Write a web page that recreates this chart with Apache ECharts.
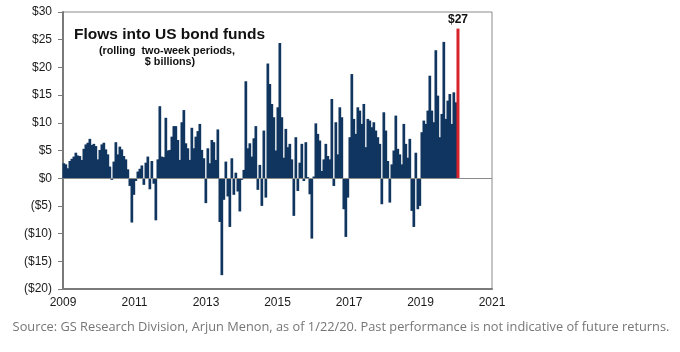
<!DOCTYPE html>
<html>
<head>
<meta charset="utf-8">
<script src="https://cdn.jsdelivr.net/npm/echarts@6/dist/echarts.min.js"></script>
<style>
  html, body { margin: 0; padding: 0; background: #fff; }
  #chart { width: 680px; height: 352px; }
</style>
</head>
<body>
<div id="chart"></div>
<script>
// rolling two-week flows, $ billions (Jan 2009 -> Jan 2020)
const flows = [
    2.7, 2.5, 1.8, 3.1, 3.5, 3.9, 4.6, 4.1, 4.0, 3.3,
    5.3, 6.1, 6.4, 7.1, 6.0, 6.2, 5.8, 3.4, 5.1, 6.1,
    6.4, 5.2, 4.3, 2.1, -0.3, 3.0, 6.5, 4.3, 5.7, 5.2,
    4.0, 3.4, 1.6, -1.4, -8.0, -3.0, -0.5, 1.2, 1.7, 2.3,
    -1.2, 2.8, 3.9, -2.0, 3.1, -1.0, -7.6, 3.4,
    13.0, 3.9, 3.8, 10.9, 5.0, 5.1, 7.5, 9.4, 9.4, 6.9,
    3.3, 10.1, 12.3, 6.3, 5.4, 3.3, 9.1, 5.4, 7.5, 8.5,
    9.8, 5.1, 3.6, -4.5, 5.4, 2.7, 6.9, 6.5, 3.3, 8.8,
    -7.9, -17.5, -3.9, 3.0, -3.3, -8.8, 3.6, -3.0, 1.0, -2.4,
    -6.0, -0.3, 1.5, 17.5, 5.4, 6.3, 3.9, 7.2, 9.4, -2.1,
    2.4,
    -5.0, 8.6, -3.5, 20.7, 17.0, 13.4, 11.0, 5.0, 12.8, 24.4,
    11.0, 3.7, 8.9, 5.6, 6.2, 3.4, -6.8, 7.4, -2.3, 2.8,
    6.2, -0.5, 6.5, 0.2, -2.9, -10.9, 0.3, 9.9, 8.0, 6.8,
    1.3, 3.4, 6.2, 4.0, 3.4, 14.3, -1.4, 10.1, 4.3, 12.8,
    11.0, -5.6, -10.6, -3.5, 7.4, 18.8, 10.7, 8.0, 12.8,
    12.2, 9.8, 13.4, 5.6, 10.7, 10.4, 9.2, 10.1, 8.6, 7.4,
    6.2, -4.7, 11.9, 8.6, 3.1, -4.4, 2.5, 5.0, 11.3, 5.3,
    4.3, 2.5, 9.8, 6.2, 3.7, 7.1, -5.9, -8.8, 4.6, -5.6,
    -5.0, 8.3, 10.4, 9.8, 12.2, 18.5, 12.2, 10.1, 23.1, 14.9,
    7.4, 11.6, 24.6, 10.7, 14.0, 15.2, 9.8, 15.5, 13.7
];
const latestFlow = 27;
const yearLabels = ['2009', '2011', '2013', '2015', '2017', '2019', '2021'];

// periods are ~20 days apart, first one mid January 2009 (in years after 2009)
const firstPeriod = 0.028;
const periodYears = 0.05594;

const flowData = flows.map(function (v, i) {
    return [firstPeriod + i * periodYears, v];
});
const latestData = [[firstPeriod + flows.length * periodYears, latestFlow]];

const chart = echarts.init(document.getElementById('chart'));
const font = '"Liberation Sans", Arial, sans-serif';

chart.setOption({
    animation: false,
    grid: {
        left: 63,
        right: 188,
        top: 12,
        bottom: 63,
        show: true,
        borderColor: '#8a8a8a',
        borderWidth: 1
    },
    xAxis: {
        type: 'value',
        min: 0,
        max: 12,
        interval: 2,
        axisLine: { show: true, onZero: false, lineStyle: { color: '#7a7a7a', width: 2 } },
        axisTick: { show: false },
        splitLine: { show: false },
        axisLabel: {
            margin: 8,
            fontFamily: font,
            fontSize: 12,
            color: '#1a1a1a',
            formatter: function (v) { return yearLabels[v / 2]; }
        }
    },
    yAxis: {
        type: 'value',
        min: -20,
        max: 30,
        interval: 5,
        axisLine: { show: true, lineStyle: { color: '#7a7a7a', width: 2 } },
        axisTick: { show: true, inside: false, length: 5, lineStyle: { color: '#7a7a7a' } },
        splitLine: { show: false },
        axisLabel: {
            margin: 11,
            fontFamily: font,
            fontSize: 12,
            color: '#1a1a1a',
            formatter: function (v) { return v < 0 ? '($' + (-v) + ')' : '$' + v; }
        }
    },
    series: [
        {
            name: 'Flows',
            type: 'bar',
            data: flowData,
            barWidth: 2.7,
            barGap: '-100%',
            itemStyle: { color: '#10355f' },
            markLine: {
                silent: true,
                symbol: 'none',
                label: { show: false },
                lineStyle: { color: '#8a8a8a', width: 1, type: 'solid' },
                data: [{ yAxis: 0 }]
            }
        },
        {
            name: 'Latest',
            type: 'bar',
            data: latestData,
            barWidth: 3,
            barGap: '-100%',
            itemStyle: { color: '#d9232a' },
            label: {
                show: true,
                position: 'top',
                distance: 3,
                formatter: function () { return '$' + latestFlow; },
                fontFamily: font,
                fontWeight: 'bold',
                fontSize: 12,
                color: '#111'
            }
        }
    ],
    graphic: [
        {
            type: 'text',
            left: 74,
            top: 27,
            style: { text: 'Flows into US bond funds', font: 'bold 15.5px ' + font, fill: '#111' }
        },
        {
            type: 'text',
            x: 167,
            y: 51,
            style: { text: '(rolling  two-week periods,', font: 'bold 10.8px ' + font, fill: '#111', textAlign: 'center', textVerticalAlign: 'middle' }
        },
        {
            type: 'text',
            x: 170,
            y: 62,
            style: { text: '$ billions)', font: 'bold 10.8px ' + font, fill: '#111', textAlign: 'center', textVerticalAlign: 'middle' }
        },
        {
            type: 'text',
            x: 341,
            y: 327,
            style: {
                text: 'Source: GS Research Division, Arjun Menon, as of 1/22/20. Past performance is not indicative of future returns.',
                font: '12.8px "Open Sans", sans-serif',
                fill: '#767676',
                textAlign: 'center',
                textVerticalAlign: 'middle'
            }
        }
    ]
});

window.addEventListener('resize', function () {
    chart.resize();
});
</script>
</body>
</html>
